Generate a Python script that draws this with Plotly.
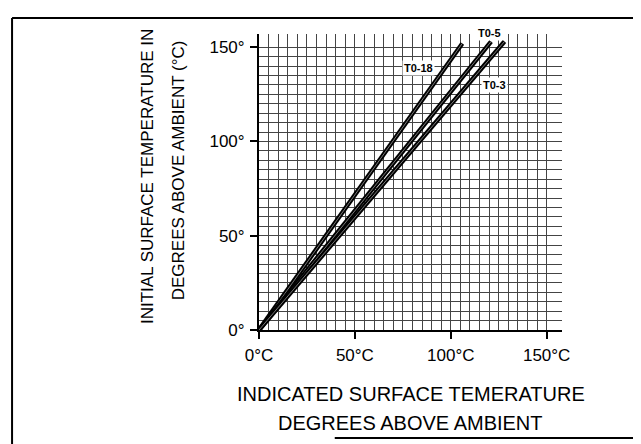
import plotly.graph_objects as go

# Data: straight calibration lines from origin to end points
series_names = ["T0-18", "T0-5", "T0-3"]
x_start = [0, 0, 0]
y_start = [0, 0, 0]
x_end = [106, 121, 128]
y_end = [152, 153, 153]

# label positions (data units)
label_x = [83, 120, 123]
label_y = [139, 157.5, 130]

x_tickvals = [0, 50, 100, 150]
x_ticktext = ["0°C", "50°C", "100°C", "150°C"]
y_tickvals = [0, 50, 100, 150]
y_ticktext = ["0°", "50°", "100°", "150°"]
grid_vals = list(range(0, 151, 5))

X_RANGE = [0, 158]
Y_RANGE = [0, 157]

FONT = "Liberation Sans, Arial, sans-serif"

fig = go.Figure()
for i, name in enumerate(series_names):
    fig.add_trace(go.Scatter(
        x=[x_start[i], x_end[i]], y=[y_start[i], y_end[i]],
        mode="lines", line=dict(color="black", width=4.5),
        showlegend=False, name=name, cliponaxis=False))
    fig.add_trace(go.Scatter(
        x=[x_start[i], x_end[i]], y=[y_start[i], y_end[i]],
        mode="lines", line=dict(color="#777", width=1),
        showlegend=False, hoverinfo="skip", cliponaxis=False))

for i, name in enumerate(series_names):
    fig.add_annotation(xref="x", yref="paper",
                       x=label_x[i],
                       y=(label_y[i] - Y_RANGE[0]) / (Y_RANGE[1] - Y_RANGE[0]),
                       xanchor="center", yanchor="middle",
                       text="<b>" + name + "</b>",
                       showarrow=False, bgcolor="white",
                       font=dict(family=FONT, size=11, color="black"),
                       borderpad=1)

axis_common = dict(
    showline=True, linecolor="black", linewidth=2,
    ticks="outside", ticklen=7, tickwidth=1.5, tickcolor="black",
    tickfont=dict(family=FONT, size=17, color="black"),
    showgrid=False, zeroline=False,
    minor=dict(tickmode="array", tickvals=grid_vals, showgrid=True,
               gridcolor="#444", gridwidth=1, ticks=""),
    tickmode="array",
)

fig.update_xaxes(range=X_RANGE, tickvals=x_tickvals, ticktext=x_ticktext,
                 ticklabelstandoff=2, **axis_common)
fig.update_yaxes(range=Y_RANGE, tickvals=y_tickvals, ticktext=y_ticktext,
                 ticklabelstandoff=2, **axis_common)

# axis titles
fig.add_annotation(xref="paper", yref="paper", x=0.5, y=-0.216,
                   text="INDICATED SURFACE TEMERATURE", showarrow=False,
                   xanchor="center", yanchor="middle",
                   font=dict(family=FONT, size=20, color="black"))
fig.add_annotation(xref="paper", yref="paper", x=0.5, y=-0.314,
                   text="DEGREES ABOVE AMBIENT", showarrow=False,
                   xanchor="center", yanchor="middle",
                   font=dict(family=FONT, size=20, color="black"))
fig.add_annotation(xref="paper", yref="paper", x=-0.366, y=0.517,
                   text="INITIAL SURFACE TEMPERATURE IN", showarrow=False,
                   textangle=-90, xanchor="center", yanchor="middle",
                   font=dict(family=FONT, size=17, color="black"))
fig.add_annotation(xref="paper", yref="paper", x=-0.267, y=0.54,
                   text="DEGREES ABOVE AMBIENT (°C)", showarrow=False,
                   textangle=-90, xanchor="center", yanchor="middle",
                   font=dict(family=FONT, size=17, color="black"))

# outer frame
frame = dict(type="line", xref="paper", yref="paper",
             line=dict(color="black", width=2))
fig.add_shape(x0=-0.815, x1=-0.815, y0=1.054, y1=-0.40, **frame)
fig.add_shape(x0=-0.815, x1=1.245, y0=1.054, y1=1.054, **frame)
fig.add_shape(x0=0.25, x1=1.28, y0=-0.365, y1=-0.365, **frame)
fig.add_shape(x0=1.245, x1=1.245, y0=1.054, y1=0.95, **frame)

fig.update_layout(
    width=633, height=436,
    margin=dict(l=251, r=79, t=26, b=114),
    plot_bgcolor="white", paper_bgcolor="white",
    font=dict(family=FONT, color="black"),
)

fig.write_html("out.html")
